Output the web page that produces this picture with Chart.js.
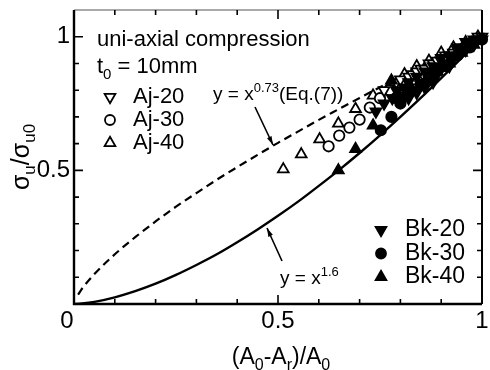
<!DOCTYPE html>
<html>
<head>
<meta charset="utf-8">
<script src="https://cdn.jsdelivr.net/npm/chart.js@4.4.0/dist/chart.umd.min.js"></script>
<style>
  body { margin: 0; background: #fff; }
  canvas { display: block; }
</style>
</head>
<body>
<canvas id="chart" width="490" height="370"></canvas>
<script>
// axis ticks
let xLabels = [0, 0.5, 1];
let yLabels = [0, 0.5, 1];
let minorStep = 0.1;

// curves
let dashX = [0.01, 0.02, 0.05, 0.1, 0.15, 0.2, 0.25, 0.3, 0.35, 0.4, 0.45, 0.5, 0.55, 0.6, 0.65, 0.7, 0.75, 0.8, 0.85, 0.9, 0.95, 1];
let dashY = [0.035, 0.058, 0.112, 0.186, 0.250, 0.309, 0.364, 0.415, 0.465, 0.512, 0.558, 0.603, 0.646, 0.689, 0.730, 0.771, 0.811, 0.850, 0.888, 0.926, 0.963, 1];
let solidX = [0, 0.02, 0.05, 0.1, 0.15, 0.2, 0.25, 0.3, 0.35, 0.4, 0.45, 0.5, 0.55, 0.6, 0.65, 0.7, 0.75, 0.8, 0.85, 0.9, 0.95, 1];
let solidY = [0, 0.002, 0.008, 0.025, 0.048, 0.076, 0.109, 0.146, 0.186, 0.231, 0.279, 0.330, 0.384, 0.442, 0.502, 0.565, 0.631, 0.700, 0.771, 0.845, 0.921, 1];

// measured points [x, y]
let aj20 = [[0.76,0.80],[0.79,0.83],[0.80,0.84],[0.82,0.85],[0.83,0.86],[0.84,0.87],[0.85,0.88],[0.86,0.88],[0.87,0.90],[0.88,0.90],[0.89,0.91],[0.90,0.91],[0.91,0.93],[0.92,0.93],[0.93,0.94],[0.94,0.95],[0.95,0.96],[0.96,0.96],[0.97,0.98],[0.98,0.98],[0.99,1.0],[1.0,1.0]];
let aj30 = [[0.624,0.59],[0.65,0.63],[0.675,0.66],[0.70,0.69],[0.725,0.735],[0.75,0.77],[0.773,0.80],[0.80,0.78],[0.80,0.82],[0.83,0.84],[0.86,0.86],[0.89,0.89],[0.92,0.92],[0.95,0.95],[0.98,0.98]];
let aj40 = [[0.513,0.504],[0.557,0.56],[0.602,0.616],[0.648,0.675],[0.69,0.73],[0.733,0.78],[0.778,0.83],[0.81,0.86],[0.84,0.89],[0.87,0.91],[0.90,0.94],[0.93,0.96],[0.96,0.98],[0.99,1.0]];
let bk20 = [[0.74,0.72],[0.76,0.75],[0.78,0.77],[0.79,0.80],[0.80,0.78],[0.81,0.81],[0.82,0.77],[0.82,0.83],[0.83,0.80],[0.84,0.79],[0.84,0.85],[0.85,0.82],[0.86,0.81],[0.86,0.87],[0.87,0.84],[0.88,0.83],[0.88,0.89],[0.89,0.86],[0.90,0.88],[0.90,0.92],[0.91,0.90],[0.92,0.89],[0.92,0.93],[0.93,0.92],[0.94,0.93],[0.94,0.96],[0.95,0.95],[0.96,0.95],[0.96,0.98],[0.97,0.97],[0.98,0.97],[0.98,0.99],[0.99,0.99],[1.0,0.99]];
let bk30 = [[0.752,0.65],[0.778,0.70],[0.80,0.75],[0.79,0.77],[0.82,0.79],[0.85,0.82],[0.88,0.86],[0.91,0.89],[0.94,0.93],[0.97,0.96],[1.0,0.99]];
let bk40 = [[0.648,0.50],[0.69,0.58],[0.733,0.668],[0.778,0.836],[0.80,0.77],[0.83,0.80],[0.86,0.83],[0.89,0.87],[0.92,0.90],[0.95,0.94],[0.98,0.97]];

const FONT = '"Liberation Sans", Arial, Helvetica, sans-serif';

function toXY(list) {
    return list.map(p => ({ x: p[0], y: p[1] }));
}

function zip(xs, ys) {
    return xs.map((x, i) => ({ x: x, y: ys[i] }));
}

function scatterSet(label, pts, style, filled, order) {
    return {
        type: 'scatter',
        label: label,
        data: toXY(pts),
        pointStyle: style === 'down' ? 'triangle' : style,
        rotation: style === 'down' ? 180 : 0,
        pointRadius: style === 'circle' ? 5.2 : 6.2,
        pointBorderWidth: 1.8,
        pointBorderColor: '#000',
        pointBackgroundColor: filled ? '#000' : '#fff',
        clip: false,
        order: order
    };
}

// text with sub/superscript parts: [text, 'n'|'b'|'p']
function richText(ctx, x, y, parts, size, align) {
    let small = Math.round(size * 0.68);
    let widths = parts.map(p => {
        ctx.font = (p[1] === 'n' ? size : small) + 'px ' + FONT;
        return ctx.measureText(p[0]).width;
    });
    let total = widths.reduce((a, b) => a + b, 0);
    let cx = align === 'center' ? x - total / 2 : x;
    ctx.textBaseline = 'alphabetic';
    ctx.textAlign = 'left';
    parts.forEach((p, i) => {
        let dy = 0;
        if (p[1] === 'b') dy = size * 0.25;
        if (p[1] === 'p') dy = -size * 0.42;
        ctx.font = (p[1] === 'n' ? size : small) + 'px ' + FONT;
        ctx.fillText(p[0], cx, y + dy);
        cx += widths[i];
    });
}

function marker(ctx, style, x, y, filled) {
    ctx.beginPath();
    if (style === 'circle') {
        ctx.arc(x, y, 5, 0, Math.PI * 2);
    } else {
        let r = 6.2, s = style === 'down' ? -1 : 1;
        ctx.moveTo(x, y - s * r);
        ctx.lineTo(x + r * 0.866, y + s * r * 0.5);
        ctx.lineTo(x - r * 0.866, y + s * r * 0.5);
        ctx.closePath();
    }
    ctx.fillStyle = filled ? '#000' : '#fff';
    ctx.fill();
    ctx.lineWidth = 1.8;
    ctx.strokeStyle = '#000';
    ctx.stroke();
}

function arrow(ctx, x1, y1, x2, y2) {
    ctx.beginPath();
    ctx.moveTo(x1, y1);
    ctx.lineTo(x2, y2);
    ctx.lineWidth = 1.6;
    ctx.stroke();
    let a = Math.atan2(y2 - y1, x2 - x1);
    ctx.beginPath();
    ctx.moveTo(x2, y2);
    ctx.lineTo(x2 - 9 * Math.cos(a - 0.28), y2 - 9 * Math.sin(a - 0.28));
    ctx.lineTo(x2 - 9 * Math.cos(a + 0.28), y2 - 9 * Math.sin(a + 0.28));
    ctx.closePath();
    ctx.fill();
}

const decor = {
    id: 'decor',
    afterDraw(chart) {
        let ctx = chart.ctx;
        let xs = chart.scales.x, ys = chart.scales.y;
        let area = chart.chartArea;
        ctx.save();
        ctx.strokeStyle = '#000';
        ctx.fillStyle = '#000';

        // frame
        ctx.lineWidth = 1.2;
        ctx.strokeStyle = '#555';
        ctx.beginPath();
        ctx.moveTo(area.left, area.top);
        ctx.lineTo(area.right, area.top);
        ctx.stroke();
        ctx.strokeStyle = '#000';
        ctx.lineWidth = 2;
        ctx.beginPath();
        ctx.moveTo(area.right, area.top);
        ctx.lineTo(area.right, area.bottom);
        ctx.stroke();
        ctx.lineWidth = 2.4;
        ctx.beginPath();
        ctx.moveTo(area.left, area.top);
        ctx.lineTo(area.left, area.bottom);
        ctx.lineTo(area.right, area.bottom);
        ctx.stroke();

        // inward ticks
        ctx.lineWidth = 1.6;
        for (let i = 0; i <= 10; i++) {
            let v = i * minorStep;
            let len = (i % 5 === 0) ? 9 : 5;
            let px = xs.getPixelForValue(v);
            let py = ys.getPixelForValue(v);
            ctx.beginPath();
            ctx.moveTo(px, area.bottom); ctx.lineTo(px, area.bottom - len);
            ctx.moveTo(px, area.top); ctx.lineTo(px, area.top + len);
            ctx.moveTo(area.left, py); ctx.lineTo(area.left + len, py);
            ctx.moveTo(area.right, py); ctx.lineTo(area.right - len, py);
            ctx.stroke();
        }

        // tick labels
        ctx.font = '24px ' + FONT;
        ctx.textBaseline = 'middle';
        ctx.textAlign = 'right';
        yLabels.forEach(v => {
            if (v === 0) return;
            ctx.fillText(String(v), area.left - 4, ys.getPixelForValue(v));
        });
        ctx.textAlign = 'center';
        xLabels.forEach(v => {
            let px = xs.getPixelForValue(v);
            if (v === 0) px -= 7;
            ctx.fillText(String(v), px, 321);
        });

        // axis titles
        richText(ctx, 281, 364, [['(A', 'n'], ['0', 'b'], ['-A', 'n'], ['r', 'b'], [')/A', 'n'], ['0', 'b']], 23, 'center');
        ctx.save();
        ctx.translate(29, 157);
        ctx.rotate(-Math.PI / 2);
        richText(ctx, 0, 0, [['σ', 'n'], ['u', 'b'], ['/σ', 'n'], ['u0', 'b']], 25, 'center');
        ctx.restore();

        // annotations
        ctx.font = '22px ' + FONT;
        ctx.textBaseline = 'middle';
        ctx.textAlign = 'left';
        ctx.fillText('uni-axial compression', 97, 40);
        richText(ctx, 97, 73, [['t', 'n'], ['0', 'b'], [' = 10mm', 'n']], 22, 'left');

        richText(ctx, 213, 100, [['y = x', 'n'], ['0.73', 'p'], ['(Eq.(7))', 'n']], 19, 'left');
        arrow(ctx, 255, 107, 273, 145);
        richText(ctx, 280, 284, [['y = x', 'n'], ['1.6', 'p']], 19, 'left');
        arrow(ctx, 282, 261, 267, 228);

        // legends
        let ajRows = [['Aj-20', 'down', false], ['Aj-30', 'circle', false], ['Aj-40', 'triangle', false]];
        ajRows.forEach((r, i) => {
            let y = 97 + i * 23;
            marker(ctx, r[1], 110, y, r[2]);
            ctx.fillStyle = '#000';
            ctx.font = '22px ' + FONT;
            ctx.textBaseline = 'middle';
            ctx.textAlign = 'left';
            ctx.fillText(r[0], 133, y);
        });
        let bkRows = [['Bk-20', 'down', true], ['Bk-30', 'circle', true], ['Bk-40', 'triangle', true]];
        bkRows.forEach((r, i) => {
            let y = 230 + i * 23.5;
            marker(ctx, r[1], 381, y, r[2]);
            ctx.fillStyle = '#000';
            ctx.font = '23px ' + FONT;
            ctx.textBaseline = 'middle';
            ctx.textAlign = 'left';
            ctx.fillText(r[0], 405, y);
        });
        ctx.restore();
    }
};

new Chart(document.getElementById('chart'), {
    type: 'scatter',
    data: {
        datasets: [
            scatterSet('Bk-20', bk20, 'down', true, 1),
            scatterSet('Bk-30', bk30, 'circle', true, 1),
            scatterSet('Bk-40', bk40, 'triangle', true, 1),
            scatterSet('Aj-20', aj20, 'down', false, 2),
            scatterSet('Aj-30', aj30, 'circle', false, 2),
            scatterSet('Aj-40', aj40, 'triangle', false, 2),
            {
                type: 'line',
                label: 'y = x^0.73',
                data: zip(dashX, dashY),
                borderColor: '#000',
                borderWidth: 2.2,
                borderDash: [8, 5],
                pointRadius: 0,
                cubicInterpolationMode: 'monotone',
                order: 3
            },
            {
                type: 'line',
                label: 'y = x^1.6',
                data: zip(solidX, solidY),
                borderColor: '#000',
                borderWidth: 2.4,
                pointRadius: 0,
                cubicInterpolationMode: 'monotone',
                order: 3
            }
        ]
    },
    options: {
        responsive: false,
        animation: false,
        devicePixelRatio: 1,
        layout: { padding: { left: 74, right: 1, top: 10, bottom: 66 } },
        plugins: { legend: { display: false }, tooltip: { enabled: false } },
        scales: {
            x: { type: 'linear', min: 0, max: 1, display: false },
            y: { type: 'linear', min: 0, max: 1.1, display: false }
        }
    },
    plugins: [decor]
});
</script>
</body>
</html>
